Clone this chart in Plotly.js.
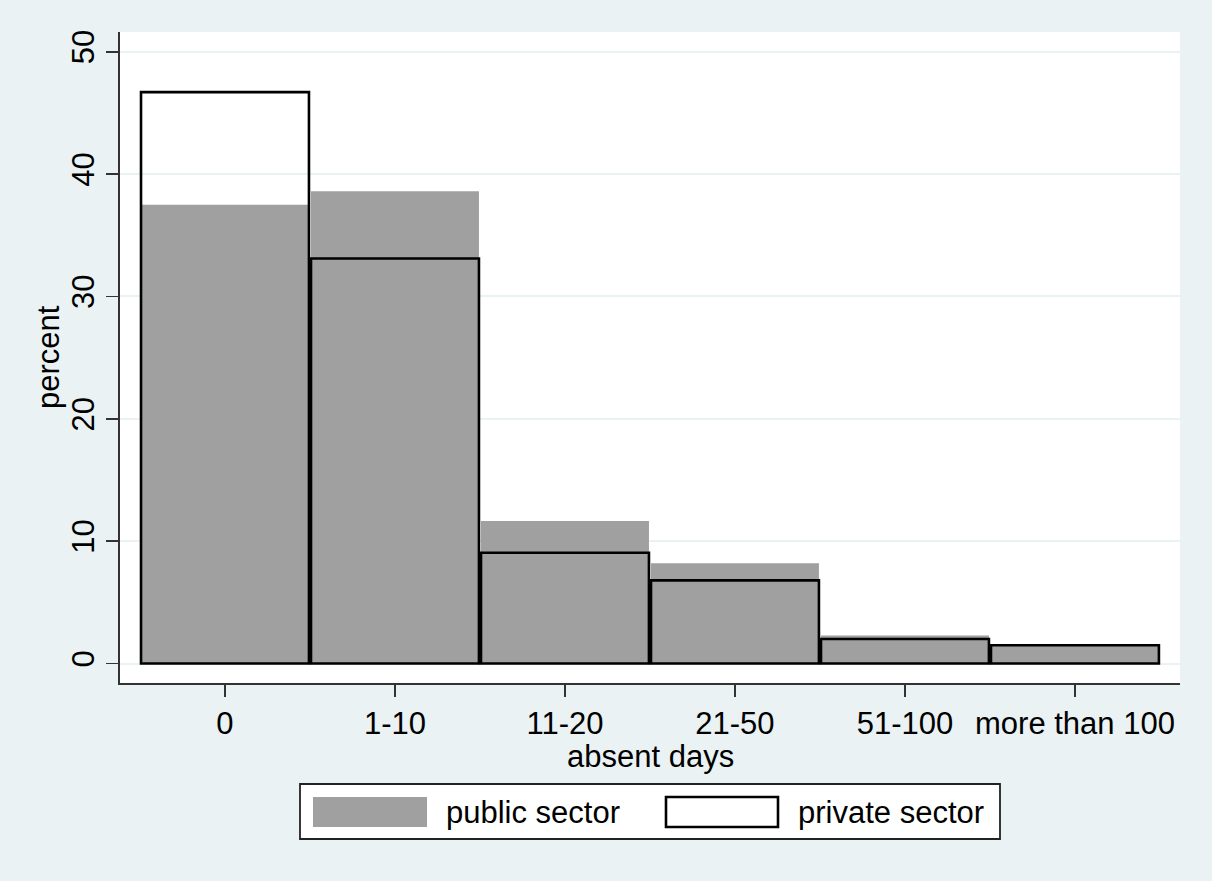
<!DOCTYPE html>
<html>
<head>
<meta charset="utf-8">
<script src="https://cdn.plot.ly/plotly-3.0.1.min.js"></script>
<style>html,body{margin:0;padding:0;background:#EAF2F3;}#chart{width:1212px;height:881px;}</style>
</head>
<body>
<div id="chart"></div>
<script>
const categories = ['0', '1-10', '11-20', '21-50', '51-100', 'more than 100'];
const publicSector = [37.5, 38.6, 11.65, 8.2, 2.3, 1.5];
const privateSector = [46.7, 33.1, 9.05, 6.8, 2.0, 1.5];
const yTicks = [0, 10, 20, 30, 40, 50];
const seriesNames = ['public sector', 'private sector'];
const xTitle = 'absent days';
const yTitle = 'percent';

const FONT = 'Arial, "Liberation Sans", sans-serif';
const FS = 31;
const BG = '#EAF2F3';
const GRAY = '#A0A0A0';

const traces = [
  {
    type: 'bar', x: categories, y: publicSector, name: seriesNames[0],
    width: 0.988, marker: {color: GRAY, line: {width: 0}},
    hoverinfo: 'x+y+name'
  },
  {
    type: 'bar', x: categories, y: privateSector, name: seriesNames[1],
    width: 0.988, marker: {color: 'rgba(0,0,0,0)', line: {color: '#000', width: 2.6}},
    hoverinfo: 'x+y+name'
  }
];

// paper-coordinate helpers (plot area: 120..1180 px, 32..683 px)
const L = 120, R = 1180, T = 32, B = 683;
const px = v => (v - L) / (R - L);
const py = v => (B - v) / (B - T);

const layout = {
  width: 1212, height: 881,
  paper_bgcolor: BG, plot_bgcolor: '#FFFFFF',
  margin: {l: L, r: 1212 - R, t: T, b: 881 - B, pad: 0},
  barmode: 'overlay',
  showlegend: false,
  font: {family: FONT, size: FS, color: '#000'},
  xaxis: {
    type: 'category', range: [-0.6176, 5.618],
    showgrid: false, zeroline: false,
    showline: true, linecolor: '#333', linewidth: 1.8,
    ticks: 'outside', ticklen: 12, tickwidth: 1.8, tickcolor: '#333',
    tickfont: {family: FONT, size: FS, color: '#000'},
    automargin: false
  },
  yaxis: {
    range: [-1.59, 51.61],
    tickvals: yTicks, ticktext: yTicks.map(String),
    showgrid: true, gridcolor: BG, gridwidth: 2,
    zeroline: false,
    showline: true, linecolor: '#333', linewidth: 1.8,
    ticks: 'outside', ticklen: 12, tickwidth: 1.8, tickcolor: '#333',
    tickangle: -90,
    tickfont: {family: FONT, size: FS, color: '#000'},
    automargin: false
  },
  shapes: [
    {type: 'rect', xref: 'paper', yref: 'paper', x0: px(300), x1: px(1000), y0: py(784), y1: py(839),
     fillcolor: '#FFFFFF', line: {color: '#222', width: 1.8}},
    {type: 'rect', xref: 'paper', yref: 'paper', x0: px(313), x1: px(427), y0: py(797), y1: py(827),
     fillcolor: GRAY, line: {width: 0}},
    {type: 'rect', xref: 'paper', yref: 'paper', x0: px(666), x1: px(778), y0: py(797), y1: py(827),
     fillcolor: '#FFFFFF', line: {color: '#000', width: 2.6}}
  ],
  annotations: [
    {xref: 'paper', yref: 'paper', x: px(650), y: py(756), xanchor: 'center', yanchor: 'middle',
     text: xTitle, showarrow: false, font: {family: FONT, size: FS, color: '#000'}},
    {xref: 'paper', yref: 'paper', x: px(48), y: py(357), xanchor: 'center', yanchor: 'middle',
     textangle: -90, text: yTitle, showarrow: false, font: {family: FONT, size: FS, color: '#000'}},
    {xref: 'paper', yref: 'paper', x: px(444), y: py(812), xanchor: 'left', yanchor: 'middle',
     text: seriesNames[0], showarrow: false, font: {family: FONT, size: FS, color: '#000'}},
    {xref: 'paper', yref: 'paper', x: px(796), y: py(812), xanchor: 'left', yanchor: 'middle',
     text: seriesNames[1], showarrow: false, font: {family: FONT, size: FS, color: '#000'}}
  ]
};

Plotly.newPlot('chart', traces, layout, {displayModeBar: false, staticPlot: true});
</script>
</body>
</html>
